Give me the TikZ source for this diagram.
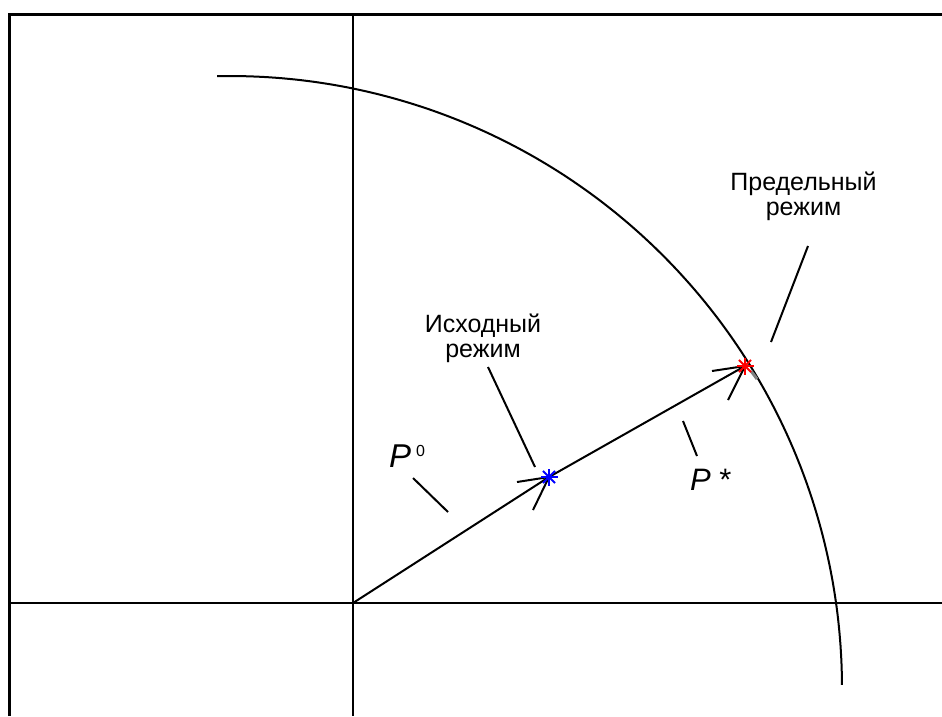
\documentclass[tikz,border=0pt]{standalone}
\usepackage{fontspec}
\setmainfont{Liberation Sans}
\begin{document}
\begin{tikzpicture}[x=1pt,y=-1pt,
  ln/.style={line width=2pt, black},
  frm/.style={line width=3pt, black},
  axis/.style={line width=2.2pt, black},
  lbl/.style={inner sep=0pt, font=\fontsize{25}{25}\selectfont, align=center},
  mk/.style={line width=1.8pt}]
\useasboundingbox (0,0) rectangle (942,716);
% frame and axes
\draw[frm] (9.5,716) -- (9.5,14) -- (942,14);
\draw[axis] (353,14) -- (353,716);
\draw[axis] (9.5,603) -- (942,603);
% limit curve
\draw[ln] plot[domain=-91.2:-0.3, samples=150] ({230+612*cos(\x)},{688+612*sin(\x)});
% points
\coordinate (O) at (353,603);
\coordinate (B) at (549,477);
\coordinate (R) at (745,366);
% vectors
\draw[ln] (O) -- (B) -- (R);
% arrow barbs
\coordinate (b1) at (517,482);
\coordinate (b2) at (533,510);
\coordinate (r1) at (712,371);
\coordinate (r2) at (728,400);
\draw[ln] (b1) -- (B);
\draw[ln] (b2) -- (B);
\draw[ln] (r1) -- (R);
\draw[ln] (r2) -- (R);
% grey artefact near limit point
\draw[line width=3pt, gray] (751,371) -- (757,379);
% star markers
\foreach \a in {0,45,90,135}{
  \draw[mk, blue] ([shift={(\a:8.5)}]B) -- ([shift={(\a+180:8.5)}]B);
  \draw[mk, red] ([shift={(\a:8.5)}]R) -- ([shift={(\a+180:8.5)}]R);
}
% labels
\node[lbl, anchor=north] (ish) at (483,314) {Исходный\\режим};
\node[lbl, anchor=north] (pred) at (803.5,172) {Предельный\\режим};
\node[inner sep=0pt, anchor=base west] (p0) at (389,467)
  {\fontsize{33}{33}\selectfont\itshape P\hspace{5pt}\raisebox{11pt}{\fontsize{16}{16}\selectfont\upshape 0}};
\node[inner sep=0pt, anchor=base west] (pst) at (690,490)
  {\fontsize{31}{31}\selectfont\itshape P \upshape*};
% leader lines
\coordinate (l1a) at (413,478); \coordinate (l1b) at (448,512);
\coordinate (l2a) at (488,367); \coordinate (l2b) at (535,467);
\coordinate (l3a) at (683,421); \coordinate (l3b) at (697,456);
\coordinate (l4a) at (808,246); \coordinate (l4b) at (771,342);
\draw[ln] (l1a) -- (l1b);
\draw[ln] (l2a) -- (l2b);
\draw[ln] (l3a) -- (l3b);
\draw[ln] (l4a) -- (l4b);
\end{tikzpicture}
\end{document}
